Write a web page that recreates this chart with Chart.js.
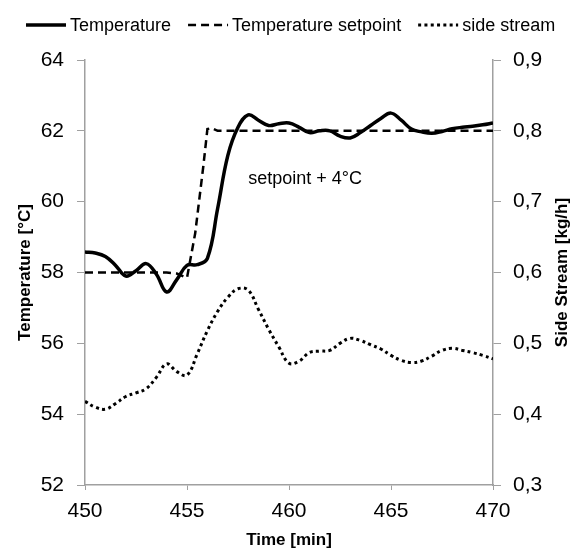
<!DOCTYPE html>
<html>
<head>
<meta charset="utf-8">
<script src="https://cdn.jsdelivr.net/npm/chart.js@4"></script>
<style>
  html, body { margin: 0; padding: 0; background: #fff; }
  #wrap { width: 573px; height: 551px; }
</style>
</head>
<body>
<div id="wrap"><canvas id="chart" width="573" height="551"></canvas></div>
<script>
// time axis (min), 0.5 min steps
const times = [450, 450.5, 451, 451.5, 452, 452.5, 453, 453.5, 454, 454.5, 455, 455.5, 456, 456.5, 457, 457.5, 458, 458.5, 459, 459.5, 460,
  460.5, 461, 461.5, 462, 462.5, 463, 463.5, 464, 464.5, 465, 465.5, 466, 466.5, 467, 467.5, 468, 468.5, 469, 469.5, 470];
const temperature = [58.58, 58.55, 58.45, 58.2, 57.9, 58.05, 58.25, 57.95, 57.45, 57.8, 58.2, 58.22, 58.4, 59.8, 61.3, 62.1, 62.45, 62.3, 62.15, 62.2, 62.22,
  62.1, 61.95, 62.0, 62.0, 61.85, 61.8, 61.95, 62.15, 62.35, 62.5, 62.3, 62.05, 61.97, 61.93, 61.98, 62.06, 62.1, 62.13, 62.17, 62.22];
const sideStream = [0.418, 0.41, 0.407, 0.415, 0.425, 0.43, 0.436, 0.452, 0.471, 0.46, 0.455, 0.485, 0.518, 0.545, 0.565, 0.577, 0.575, 0.548, 0.52, 0.495, 0.472,
  0.475, 0.487, 0.489, 0.49, 0.5, 0.507, 0.504, 0.498, 0.492, 0.483, 0.476, 0.473, 0.475, 0.482, 0.49, 0.493, 0.49, 0.487, 0.483, 0.478];
const setpointTimes = [450, 454, 454.5, 455, 455.4, 455.6, 455.8, 456.0, 456.2, 456.5, 470];
const setpointValues = [58, 58, 57.97, 57.85, 59.1, 60.05, 61.0, 62.05, 62.08, 62.0, 62.0];

const xTicks = [450, 455, 460, 465, 470];
const seriesNames = ['Temperature', 'Temperature setpoint', 'side stream'];
const note = { x: 458.0, y: 60.65, text: 'setpoint + 4°C' };
const rightTitle = 'Side Stream [kg/h]';

const FONT = '"Liberation Sans", Arial, sans-serif';
const GREY = '#a0a0a0';

const pts = (xs, ys) => xs.map((x, i) => ({ x: x, y: ys[i] }));

const legendPlugin = {
  id: 'topLegend',
  afterDraw(chart) {
    const ctx = chart.ctx;
    ctx.save();
    ctx.font = '18px ' + FONT;
    ctx.textBaseline = 'middle';
    ctx.fillStyle = '#000';
    const y = 25;
    let x = 26;
    chart.data.datasets.forEach(ds => {
      ctx.beginPath();
      ctx.strokeStyle = '#000';
      ctx.lineWidth = ds.borderWidth;
      ctx.setLineDash(ds.borderDash || []);
      ctx.moveTo(x, y);
      ctx.lineTo(x + 40, y);
      ctx.stroke();
      ctx.setLineDash([]);
      ctx.fillText(ds.label, x + 44, y + 1);
      x += 44 + ctx.measureText(ds.label).width + 17;
    });
    ctx.restore();
  }
};

// annotation + right axis title (reads bottom to top like the left one)
const textPlugin = {
  id: 'texts',
  afterDatasetsDraw(chart) {
    const ctx = chart.ctx;
    const xs = chart.scales.x, ys = chart.scales.y, r = chart.scales.y1;
    ctx.save();
    ctx.font = '18px ' + FONT;
    ctx.fillStyle = '#000';
    ctx.textBaseline = 'middle';
    ctx.fillText(note.text, xs.getPixelForValue(note.x), ys.getPixelForValue(note.y));
    ctx.translate(r.right - 11, (r.top + r.bottom) / 2);
    ctx.rotate(-Math.PI / 2);
    ctx.font = 'bold 17px ' + FONT;
    ctx.textAlign = 'center';
    ctx.fillText(rightTitle, 0, 0);
    ctx.restore();
  }
};

new Chart(document.getElementById('chart').getContext('2d'), {
  type: 'line',
  data: {
    datasets: [{
      label: seriesNames[0],
      data: pts(times, temperature),
      borderColor: '#000',
      borderWidth: 3.5,
      tension: 0.4,
      pointRadius: 0,
      yAxisID: 'y'
    }, {
      label: seriesNames[1],
      data: pts(setpointTimes, setpointValues),
      borderColor: '#000',
      borderWidth: 2.5,
      borderDash: [8, 5],
      tension: 0,
      pointRadius: 0,
      yAxisID: 'y'
    }, {
      label: seriesNames[2],
      data: pts(times, sideStream),
      borderColor: '#000',
      borderWidth: 3,
      borderDash: [3, 3.3],
      borderCapStyle: 'butt',
      tension: 0.4,
      pointRadius: 0,
      yAxisID: 'y1'
    }]
  },
  options: {
    responsive: false,
    animation: false,
    layout: { padding: { top: 60, left: 0, right: 0, bottom: 0 } },
    plugins: { legend: { display: false }, tooltip: { enabled: false } },
    scales: {
      x: {
        type: 'linear',
        min: 450, max: 470,
        afterBuildTicks: s => { s.ticks = xTicks.map(v => ({ value: v })); },
        afterFit: s => { s.height = 66; },
        grid: { drawOnChartArea: false, color: GREY, tickLength: 5 },
        border: { color: GREY, width: 1.5 },
        ticks: { color: '#000', font: { family: FONT, size: 21 }, padding: 9, maxRotation: 0 },
        title: { display: true, text: 'Time [min]', color: '#000', font: { family: FONT, size: 17, weight: 'bold' }, padding: { top: 0, bottom: 0 } }
      },
      y: {
        position: 'left',
        min: 52, max: 64,
        ticks: { stepSize: 2, color: '#000', font: { family: FONT, size: 21 }, padding: 13 },
        afterFit: s => { s.width = 85; },
        grid: { drawOnChartArea: false, color: GREY, tickLength: 8 },
        border: { color: GREY, width: 1.5 },
        title: { display: true, text: 'Temperature [°C]', color: '#000', font: { family: FONT, size: 17, weight: 'bold' }, padding: { top: 15, bottom: 0 } }
      },
      y1: {
        position: 'right',
        min: 0.3, max: 0.9,
        ticks: {
          stepSize: 0.1, color: '#000', font: { family: FONT, size: 21 }, padding: 12,
          callback: v => v.toFixed(1).replace('.', ',')
        },
        afterFit: s => { s.width = 80; },
        grid: { drawOnChartArea: false, color: GREY, tickLength: 8 },
        border: { color: GREY, width: 1.5 },
        title: { display: false }
      }
    }
  },
  plugins: [legendPlugin, textPlugin]
});
</script>
</body>
</html>
